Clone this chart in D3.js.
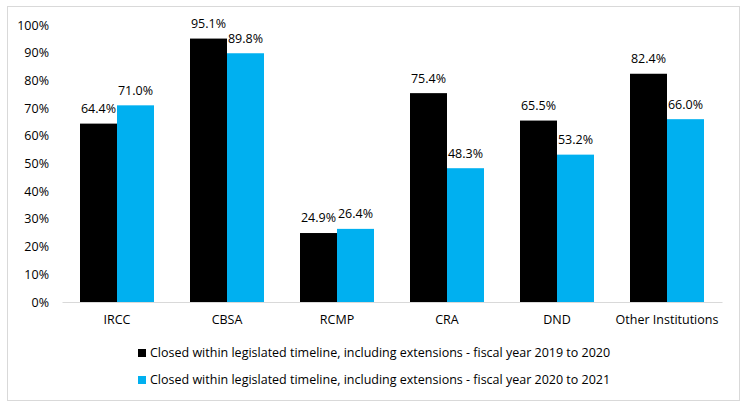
<!DOCTYPE html>
<html>
<head>
<meta charset="utf-8">
<script src="https://cdn.jsdelivr.net/npm/d3@7"></script>
<style>
  body { margin: 0; background: #fff; }
  text { font-family: "Open Sans", "Noto Sans", sans-serif; fill: #000; }
</style>
</head>
<body>
<svg width="746" height="410"></svg>
<script>
var categories = ['IRCC', 'CBSA', 'RCMP', 'CRA', 'DND', 'Other Institutions']
var fy2019 = [64.4, 95.1, 24.9, 75.4, 65.5, 82.4]
var fy2020 = [71.0, 89.8, 26.4, 48.3, 53.2, 66.0]
var seriesNames = [
    'Closed within legislated timeline, including extensions - fiscal year 2019 to 2020',
    'Closed within legislated timeline, including extensions - fiscal year 2020 to 2021'
]
var yTicks = [0, 10, 20, 30, 40, 50, 60, 70, 80, 90, 100]

var colors = ['#000000', '#00b0f0']
var fontSize = '12.5px'

var svg = d3.select('svg')

// outer frame
svg.append('rect')
    .attr('x', 7.5).attr('y', 6.5)
    .attr('width', 732).attr('height', 394)
    .attr('fill', 'none')
    .attr('stroke', '#d9d9d9')

var plotLeft = 62, plotRight = 722, plotTop = 25, plotBottom = 302

var x0 = d3.scaleBand().domain(categories).range([plotLeft, plotRight]).padding(0)
var x1 = d3.scaleBand().domain([0, 1]).range([18, x0.bandwidth() - 18])
var y = d3.scaleLinear().domain([0, 100]).range([plotBottom, plotTop])

// y axis labels (no line)
var yAxis = d3.axisLeft(y)
    .tickValues(yTicks)
    .tickSize(0)
    .tickPadding(13)
    .tickFormat(function(d){ return d + '%' })

var yg = svg.append('g')
    .attr('transform', 'translate(' + plotLeft + ',0)')
    .call(yAxis)
yg.select('.domain').remove()
yg.selectAll('text').style('font-size', fontSize)

// bars
var rows = categories.map(function(c, i){ return { cat: c, vals: [fy2019[i], fy2020[i]] } })

var groups = svg.selectAll('g.cat')
    .data(rows)
    .join('g')
    .attr('class', 'cat')
    .attr('transform', function(d){ return 'translate(' + x0(d.cat) + ',0)' })

groups.selectAll('rect')
    .data(function(d){ return d.vals })
    .join('rect')
    .attr('x', function(d, i){ return x1(i) })
    .attr('y', function(d){ return y(d) })
    .attr('width', x1.bandwidth())
    .attr('height', function(d){ return plotBottom - y(d) })
    .attr('fill', function(d, i){ return colors[i] })

groups.selectAll('text')
    .data(function(d){ return d.vals })
    .join('text')
    .attr('x', function(d, i){ return x1(i) + x1.bandwidth() / 2 })
    .attr('y', function(d){ return y(d) - 15 })
    .attr('dy', '0.35em')
    .attr('text-anchor', 'middle')
    .style('font-size', fontSize)
    .text(function(d){ return d.toFixed(1) + '%' })

// x axis
var xAxis = d3.axisBottom(x0).tickSize(0).tickPadding(13)
var xg = svg.append('g')
    .attr('transform', 'translate(0,' + plotBottom + ')')
    .call(xAxis)
xg.select('.domain').attr('stroke', '#d9d9d9')
xg.selectAll('text').style('font-size', fontSize)

// legend
var legend = svg.selectAll('g.legend')
    .data(seriesNames)
    .join('g')
    .attr('class', 'legend')
    .attr('transform', function(d, i){ return 'translate(138,' + (353 + i * 27) + ')' })

legend.append('rect')
    .attr('x', 0).attr('y', -4)
    .attr('width', 8).attr('height', 8)
    .attr('fill', function(d, i){ return colors[i] })

legend.append('text')
    .attr('x', 12)
    .attr('dy', '0.35em')
    .style('font-size', fontSize)
    .text(function(d){ return d })
</script>
</body>
</html>
